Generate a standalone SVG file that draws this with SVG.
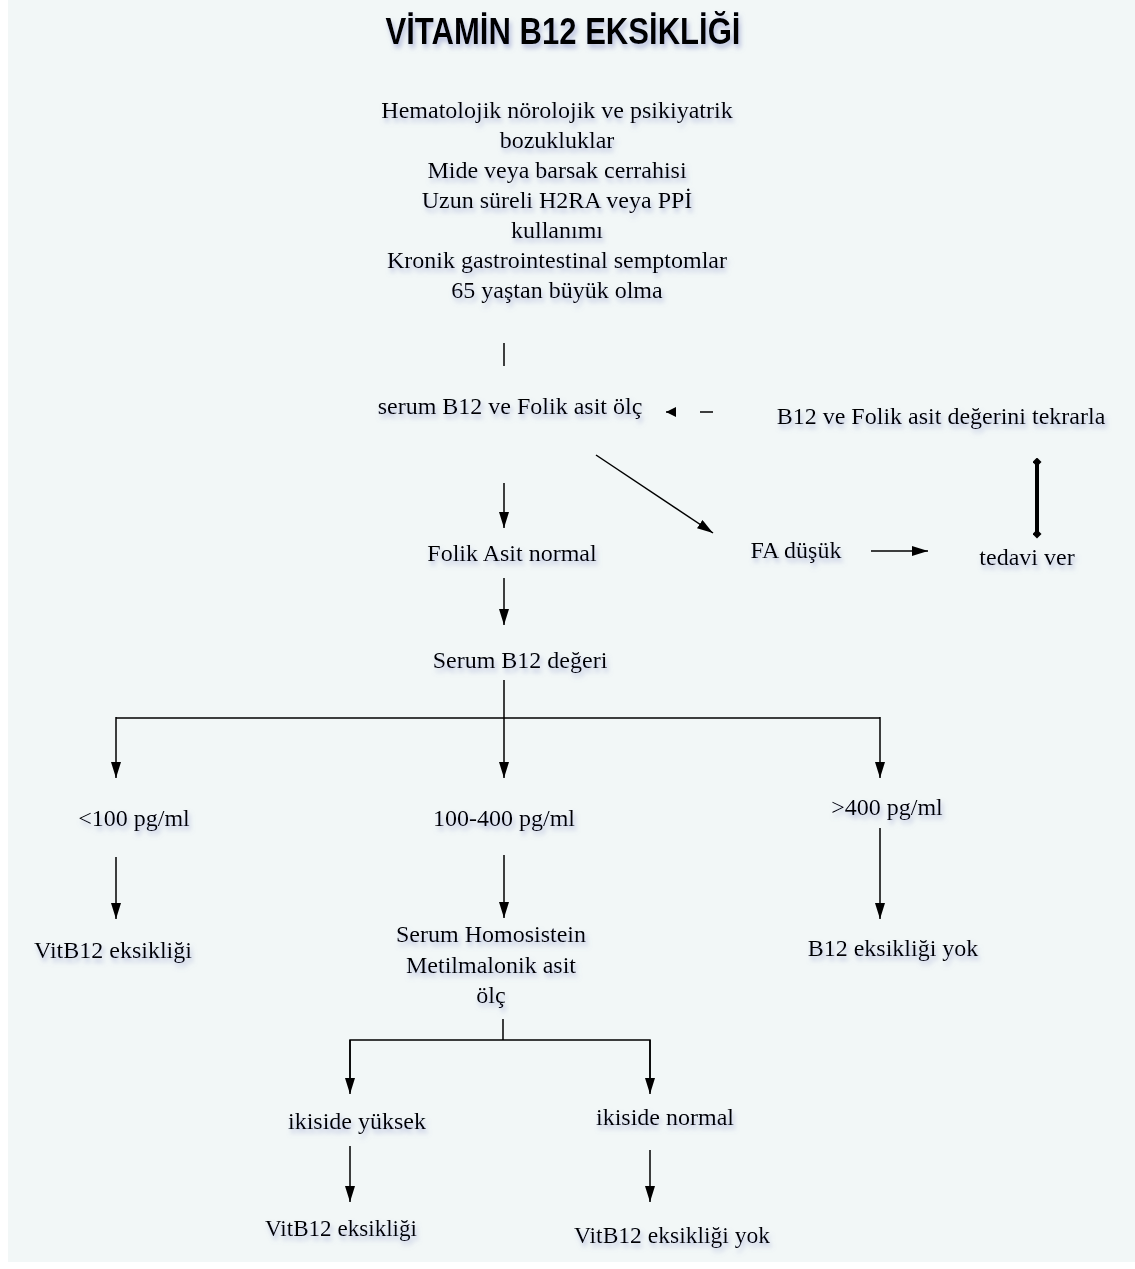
<svg xmlns="http://www.w3.org/2000/svg" width="1135" height="1269" viewBox="0 0 1135 1269">
<defs>
<filter id="sh" x="-10%" y="-30%" width="120%" height="180%">
<feDropShadow dx="2" dy="4" stdDeviation="2.5" flood-color="#7f88c4" flood-opacity="0.55"/>
</filter>
<marker id="ah" viewBox="0 0 10 10" refX="10" refY="5" markerWidth="10" markerHeight="10" markerUnits="userSpaceOnUse" orient="auto">
<path d="M0,0 L10,5 L0,10 Z" fill="#000"/>
</marker>
<marker id="ahb" viewBox="0 0 16 10" refX="16" refY="5" markerWidth="16" markerHeight="10" markerUnits="userSpaceOnUse" orient="auto">
<path d="M0,0 L16,5 L0,10 Z" fill="#000"/>
</marker>
<marker id="dia" viewBox="0 0 10 10" refX="5" refY="5" markerWidth="9" markerHeight="9" markerUnits="userSpaceOnUse" orient="auto">
<path d="M5,0 L10,5 L5,10 L0,5 Z" fill="#000"/>
</marker>
</defs>
<style>
.t{font-family:"Liberation Serif","Times New Roman",serif;font-size:24px;fill:#000;text-anchor:middle;filter:url(#sh)}
.ttl{font-family:"Liberation Sans Narrow","Liberation Sans",Arial,sans-serif;font-weight:bold;font-size:36px;fill:#000;text-anchor:middle;filter:url(#sh)}
.c{stroke:#000;stroke-width:1.5;fill:none}
.a{stroke:#000;stroke-width:1.5;fill:none;marker-end:url(#ahb)}
</style>
<rect x="0" y="0" width="1135" height="1269" fill="#ffffff"/>
<rect x="8" y="0" width="1127" height="1262" fill="#f2f7f7"/>

<g id="title"><text class="ttl" x="563" y="44" textLength="355" lengthAdjust="spacingAndGlyphs">VİTAMİN B12 EKSİKLİĞİ</text></g>

<g id="n-risk">
<text class="t" x="557" y="118">Hematolojik nörolojik ve psikiyatrik</text>
<text class="t" x="557" y="148">bozukluklar</text>
<text class="t" x="557" y="178">Mide veya barsak cerrahisi</text>
<text class="t" x="557" y="208">Uzun süreli H2RA veya PPİ</text>
<text class="t" x="557" y="238">kullanımı</text>
<text class="t" x="557" y="268">Kronik gastrointestinal semptomlar</text>
<text class="t" x="557" y="298">65 yaştan büyük olma</text>
</g>
<g id="n-olc"><text class="t" x="510" y="414">serum B12 ve Folik asit ölç</text></g>
<g id="n-tekrar"><text class="t" x="941" y="424">B12 ve Folik asit değerini tekrarla</text></g>
<g id="n-fanormal"><text class="t" x="512" y="561">Folik Asit normal</text></g>
<g id="n-fadusuk"><text class="t" x="796" y="558">FA düşük</text></g>
<g id="n-tedavi"><text class="t" x="1027" y="565">tedavi ver</text></g>
<g id="n-serumb12"><text class="t" x="520" y="668">Serum B12 değeri</text></g>
<g id="n-lt100"><text class="t" x="134" y="826">&lt;100 pg/ml</text></g>
<g id="n-100400"><text class="t" x="504" y="826">100-400 pg/ml</text></g>
<g id="n-gt400"><text class="t" x="887" y="815">&gt;400 pg/ml</text></g>
<g id="n-vitb12a"><text class="t" x="113" y="958">VitB12 eksikliği</text></g>
<g id="n-homo">
<text class="t" x="491" y="942">Serum Homosistein</text>
<text class="t" x="491" y="973">Metilmalonik asit</text>
<text class="t" x="491" y="1003">ölç</text>
</g>
<g id="n-yok"><text class="t" x="893" y="956">B12 eksikliği yok</text></g>
<g id="n-yuksek"><text class="t" x="357" y="1129">ikiside yüksek</text></g>
<g id="n-normal"><text class="t" x="665" y="1125">ikiside normal</text></g>
<g id="n-vitb12b"><text class="t" x="341" y="1236" textLength="152" lengthAdjust="spacingAndGlyphs">VitB12 eksikliği</text></g>
<g id="n-vitb12yok"><text class="t" x="672" y="1243" textLength="196" lengthAdjust="spacingAndGlyphs">VitB12 eksikliği yok</text></g>

<g id="connectors">
<line class="c" x1="504" y1="343" x2="504" y2="366"/>
<line class="c" x1="700" y1="412" x2="713" y2="412"/>
<line class="c" x1="672" y1="412" x2="678" y2="412" marker-end="url(#ah)" transform="rotate(180 672 412)"/>
<line class="a" x1="596" y1="455" x2="713" y2="533"/>
<line class="a" x1="504" y1="483" x2="504" y2="528"/>
<line class="a" x1="871" y1="551" x2="928" y2="551"/>
<line stroke="#000" stroke-width="4" x1="1037" y1="462" x2="1037" y2="534" marker-start="url(#dia)" marker-end="url(#dia)"/>
<line class="a" x1="504" y1="578" x2="504" y2="625"/>
<line class="c" x1="504" y1="680" x2="504" y2="717"/>
<polyline class="c" points="116,718 880,718"/>
<line class="a" x1="116" y1="717" x2="116" y2="778"/>
<line class="a" x1="504" y1="717" x2="504" y2="778"/>
<line class="a" x1="880" y1="717" x2="880" y2="778"/>
<line class="a" x1="116" y1="857" x2="116" y2="919"/>
<line class="a" x1="504" y1="855" x2="504" y2="918"/>
<line class="a" x1="880" y1="828" x2="880" y2="919"/>
<line class="c" x1="503" y1="1019" x2="503" y2="1040"/>
<polyline class="c" points="350,1092 350,1040 650,1040 650,1092"/>
<line class="a" x1="350" y1="1040" x2="350" y2="1094"/>
<line class="a" x1="650" y1="1040" x2="650" y2="1094"/>
<line class="a" x1="350" y1="1146" x2="350" y2="1202"/>
<line class="a" x1="650" y1="1150" x2="650" y2="1202"/>
</g>
</svg>
